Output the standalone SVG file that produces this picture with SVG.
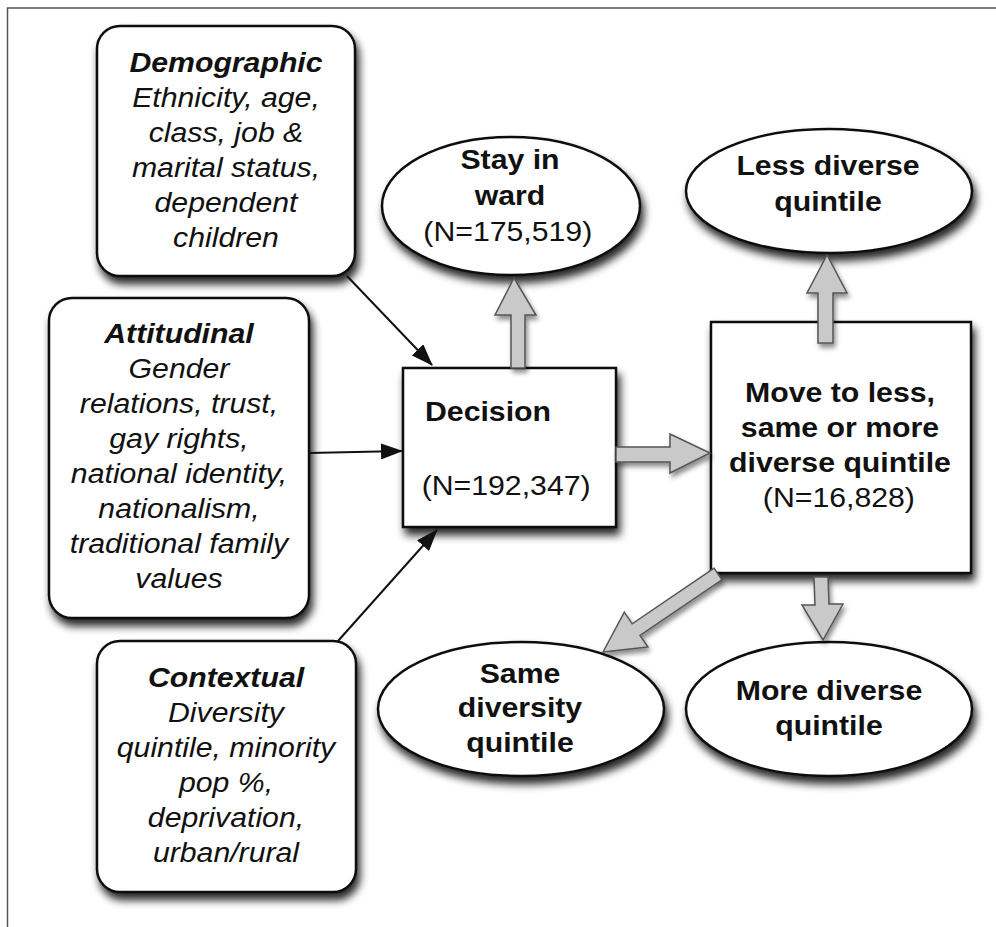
<svg xmlns="http://www.w3.org/2000/svg" width="996" height="927" viewBox="0 0 996 927">
<style>
.frame{stroke:#555;stroke-width:1.5;fill:none}
.box{fill:#fff;stroke:#111;stroke-width:2.5}
.t{font-family:"Liberation Sans",Arial,sans-serif;font-size:27.5px;fill:#111;text-anchor:middle}
.b{font-weight:bold}
.i{font-style:italic}
.l{text-anchor:start}
.blk{fill:#c9c9c9;stroke:#555;stroke-width:1.5;stroke-linejoin:miter}
.ln{stroke:#111;stroke-width:2;fill:none}
</style>
<defs>
<filter id="sh" x="-20%" y="-20%" width="150%" height="150%">
<feGaussianBlur in="SourceAlpha" stdDeviation="4"/>
<feOffset dx="3" dy="7"/>
<feComponentTransfer><feFuncA type="linear" slope="0.85"/></feComponentTransfer>
<feMerge><feMergeNode/><feMergeNode in="SourceGraphic"/></feMerge>
</filter>
<filter id="sh2" x="-30%" y="-30%" width="160%" height="160%">
<feGaussianBlur in="SourceAlpha" stdDeviation="2.5"/>
<feOffset dx="2" dy="4"/>
<feComponentTransfer><feFuncA type="linear" slope="0.45"/></feComponentTransfer>
<feMerge><feMergeNode/><feMergeNode in="SourceGraphic"/></feMerge>
</filter>
<marker id="ah" markerUnits="userSpaceOnUse" markerWidth="22" markerHeight="16" viewBox="0 0 22 16" refX="21" refY="8" orient="auto">
<path d="M0,0 L22,8 L0,16 z" fill="#111"/>
</marker>
</defs>
<rect width="996" height="927" fill="#fff"/>
<path class="frame" d="M7.5,927 V8 H996"/>

<g id="demographic">
<rect class="box" x="97" y="26" width="258" height="250" rx="23" filter="url(#sh)"/>
<g transform="matrix(1.1,0,0,1,-22.6,0)">
<text class="t b i" x="226" y="72">Demographic</text>
<text class="t i" x="226" y="107">Ethnicity, age,</text>
<text class="t i" x="226" y="142">class, job &amp;</text>
<text class="t i" x="226" y="177">marital status,</text>
<text class="t i" x="226" y="212">dependent</text>
<text class="t i" x="226" y="247">children</text>
</g>
</g>

<g id="attitudinal">
<rect class="box" x="49" y="298" width="260" height="320" rx="23" filter="url(#sh)"/>
<g transform="matrix(1.1,0,0,1,-17.9,0)">
<text class="t b i" x="179" y="343">Attitudinal</text>
<text class="t i" x="179" y="378">Gender</text>
<text class="t i" x="179" y="413">relations, trust,</text>
<text class="t i" x="179" y="448">gay rights,</text>
<text class="t i" x="179" y="483">national identity,</text>
<text class="t i" x="179" y="518">nationalism,</text>
<text class="t i" x="179" y="553">traditional family</text>
<text class="t i" x="179" y="588">values</text>
</g>
</g>

<g id="contextual">
<rect class="box" x="97" y="641" width="259" height="251" rx="23" filter="url(#sh)"/>
<g transform="matrix(1.1,0,0,1,-22.6,0)">
<text class="t b i" x="226" y="687">Contextual</text>
<text class="t i" x="226" y="722">Diversity</text>
<text class="t i" x="226" y="757">quintile, minority</text>
<text class="t i" x="226" y="792">pop %,</text>
<text class="t i" x="226" y="827">deprivation,</text>
<text class="t i" x="226" y="862">urban/rural</text>
</g>
</g>

<g id="decision">
<rect class="box" x="403" y="368" width="213" height="159" filter="url(#sh)"/>
<g transform="matrix(1.1,0,0,1,-42.5,0)">
<text class="t b l" x="425" y="421">Decision</text>
<text class="t l" x="422" y="495">(N=192,347)</text>
</g>
</g>

<g id="stay">
<ellipse class="box" cx="511" cy="206" rx="129" ry="69" filter="url(#sh)"/>
<g transform="matrix(1.1,0,0,1,-51,0)">
<text class="t b" x="510" y="169">Stay in</text>
<text class="t b" x="510" y="205">ward</text>
<text class="t" x="508" y="241">(N=175,519)</text>
</g>
</g>

<g id="less">
<ellipse class="box" cx="829" cy="191" rx="143" ry="62" filter="url(#sh)"/>
<g transform="matrix(1.1,0,0,1,-82.8,0)">
<text class="t b" x="828" y="175">Less diverse</text>
<text class="t b" x="828" y="211">quintile</text>
</g>
</g>

<g id="move">
<rect class="box" x="711" y="322" width="260" height="251" filter="url(#sh)"/>
<g transform="matrix(1.1,0,0,1,-84,0)">
<text class="t b" x="840" y="402">Move to less,</text>
<text class="t b" x="840" y="437">same or more</text>
<text class="t b" x="840" y="472">diverse quintile</text>
<text class="t" x="839" y="507">(N=16,828)</text>
</g>
</g>

<g id="same">
<ellipse class="box" cx="521" cy="709" rx="143" ry="67" filter="url(#sh)"/>
<g transform="matrix(1.1,0,0,1,-52,0)">
<text class="t b" x="520" y="683">Same</text>
<text class="t b" x="520" y="717">diversity</text>
<text class="t b" x="520" y="752">quintile</text>
</g>
</g>

<g id="more">
<ellipse class="box" cx="829" cy="709" rx="143" ry="67" filter="url(#sh)"/>
<g transform="matrix(1.1,0,0,1,-82.9,0)">
<text class="t b" x="829" y="700">More diverse</text>
<text class="t b" x="829" y="735">quintile</text>
</g>
</g>

<g id="connectors">
<line class="ln" x1="347" y1="276" x2="432" y2="365" marker-end="url(#ah)"/>
<line class="ln" x1="309" y1="453" x2="402" y2="451" marker-end="url(#ah)"/>
<line class="ln" x1="338" y1="641" x2="437" y2="530" marker-end="url(#ah)"/>
<polygon class="blk" filter="url(#sh2)" points="511,368 511,315 495,315 514,278 536,315 525,315 525,368"/>
<polygon class="blk" filter="url(#sh2)" points="818,343 818,293 807,293 827,255 847,293 833,293 833,343"/>
<polygon class="blk" filter="url(#sh2)" points="616,447 670,447 670,434 710,453 670,473 670,462 616,462"/>
<polygon class="blk" filter="url(#sh2)" points="814,577 815,605 802,605 823,640 843,604 829,604 828,577"/>
<polygon class="blk" filter="url(#sh2)" points="714.1,568.2 632.2,623.8 624.3,612.2 603,652 647.9,647 640,635.4 721.9,579.8"/>
</g>
</svg>
